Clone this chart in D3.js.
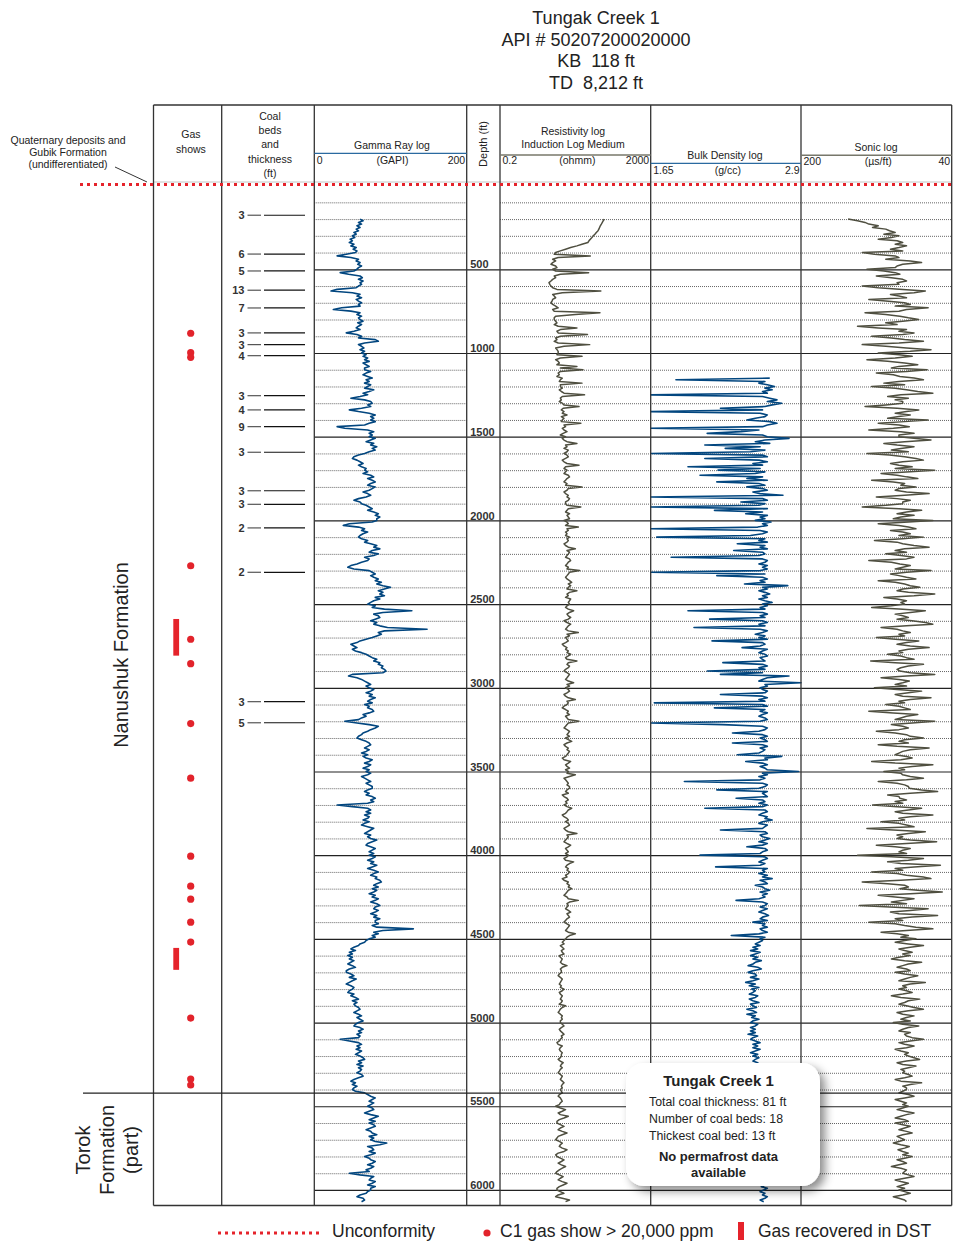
<!DOCTYPE html>
<html><head><meta charset="utf-8">
<script src="https://cdn.jsdelivr.net/npm/d3@7"></script>
<style>body{margin:0;background:#fff}svg{display:block;font-family:"Liberation Sans",Arial,sans-serif}</style>
</head><body><svg id="c" width="958" height="1241"></svg>
<script>
// ---------- DATA ----------
const titleLines = ["Tungak Creek 1", "API # 50207200020000", "KB  118 ft", "TD  8,212 ft"];
const depthTicks = [500,1000,1500,2000,2500,3000,3500,4000,4500,5000,5500,6000];
const coalDepths = [177,409,510,625,731,880,950,1016,1255,1340,1440,1593,1823,1904,2045,2310,3083,3209];
const coalThick  = [3,6,5,13,7,3,3,4,3,4,9,3,3,3,2,2,3,5];
const gasShowDepths = [882,998,1026,2271,2710,2856,3214,3540,4006,4185,4263,4400,4519,4973,5337,5373];
const dstTops    = [2589,4554];
const dstBottoms = [2808,4685];
const formationBoundary = 5422;
const grScale  = ["0","(GAPI)","200"];
const resScale = ["0.2","(ohmm)","2000"];
const denScale = ["1.65","(g/cc)","2.9"];
const sonScale = ["200","(\u00b5s/ft)","40"];

// log samples every 10 ft (one row = 100 ft)
const logStep = 10;
const gammaStart = 200;
const gammaValues = [
60,64,58,62,56,60,55,58,52,55, 50,53,47,50,46,52,48,55,51,56,
54,42,30,48,58,55,60,57,62,58, 56,52,34,45,60,63,58,64,60,62,
58,55,30,22,50,60,56,62,55,58, 62,58,60,36,25,48,60,56,62,58,
60,64,57,62,58,55,60,52,42,56, 62,58,80,84,66,58,62,65,60,66,
62,68,64,70,66,72,64,68,72,66, 66,74,68,64,70,76,68,72,66,74,
70,66,78,72,64,70,60,48,66,74, 76,70,74,62,46,58,72,80,74,78,
74,80,72,66,30,40,70,78,72,76, 72,80,74,68,78,74,82,76,80,72,
66,58,52,50,56,60,64,58,62,68, 66,70,64,74,78,70,76,80,74,70,
80,76,72,64,70,74,68,58,52,60, 62,68,72,76,70,78,84,80,86,82,
82,76,46,38,58,66,62,70,64,60, 58,62,70,66,74,82,78,86,76,72,
84,78,66,72,70,62,56,48,44,52, 72,76,80,74,78,84,80,88,82,90,
100,92,84,90,86,92,80,86,78,74, 70,80,76,92,128,90,78,84,86,80,
74,82,78,86,96,148,92,84,88,82, 76,68,60,56,48,52,56,50,54,62,
68,72,76,82,78,86,84,90,88,92, 94,90,50,45,56,62,66,70,74,68,
72,78,74,68,76,72,80,74,70,76, 66,72,70,76,78,72,64,68,62,58,
40,56,72,84,80,74,70,64,62,58, 56,62,68,72,74,70,66,72,68,62,
70,64,68,76,72,66,74,70,64,72, 68,74,70,62,66,70,74,68,72,76,
76,70,66,72,68,76,80,74,78,70, 30,50,70,74,68,74,66,72,70,64,
72,66,62,70,78,74,70,66,74,70, 74,82,76,70,68,74,80,76,72,78,
72,80,76,70,78,74,82,76,70,78, 84,78,74,82,80,86,88,82,78,84,
76,82,78,72,80,76,84,80,74,82, 86,80,78,84,80,74,82,78,86,80,
80,84,76,82,130,90,78,84,76,80, 72,68,66,60,58,52,48,54,46,50,
44,50,46,52,48,44,50,54,46,42, 42,48,52,46,55,50,46,42,48,52,
50,46,44,52,48,54,58,50,56,52, 54,58,60,56,52,58,62,56,60,64,
58,54,52,60,64,58,62,56,60,58, 34,46,58,62,56,60,55,62,58,54,
60,64,66,58,62,56,64,58,62,60, 56,62,64,58,52,48,54,50,56,52,
50,54,66,70,74,80,76,72,78,74, 70,76,78,72,66,74,84,78,72,80,
72,78,80,74,68,74,76,82,72,78, 74,80,95,86,70,76,78,72,80,74,
66,72,74,80,76,70,78,74,68,72, 46,60,78,74,72,80,76,70,80,74,
74,70,68,60,56,64,66,62];

const resStart = 200;
const resValues = [
117,110,104,98,92,88,84,80,72,66, 60,55,50,46,43,30,22,15,11,8,
6,5.5,50,7,5,6,5,4.5,6,6.5, 5,6,45,8,5.5,6,5,4.5,4,4.2,
4.5,5,6.5,95,9,5,5.5,6,5,4.8, 4.5,5,6,7,5,5.5,90,20,6,5.5,
5.5,6,6.5,5.5,7,22,8,6.5,7,42, 8,6,6.5,5.5,7,48,10,6,6.5,7,
7,6.5,30,8,6,7,7.5,6.5,22,8, 32,8,7,7.5,6.5,9,8,7.5,30,8,
8,9,7.5,8.5,10,35,9,8,8.5,7.5, 9,10,25,9.5,8.5,10,9,12,8.5,10,
9,8.5,28,10,11,9,10,12,9.5,8, 11,9,10,12,22,11,12,10,13,12,
10,12,13,11,9,10,12,25,11,10, 12,11,10,13,14,12,11,10,12,11,
30,13,12,10,11,13,12,14,13,11, 11,12,28,13,12,11,14,12,13,14,
10,12,13,11,24,12,13,11,12,11, 14,12,13,12,10,11,13,20,12,14,
13,12,11,14,15,13,12,11,13,12, 26,14,13,12,11,12,14,16,13,15,
13,12,22,14,12,13,11,15,14,13, 14,12,11,13,18,14,12,13,15,13,
10,12,15,13,12,11,13,24,12,14, 11,12,13,11,9,10,12,11,13,12,
15,13,11,12,22,13,12,14,13,11, 10,12,14,13,12,11,13,18,12,14,
11,13,14,12,10,11,13,20,12,13, 12,10,9,11,13,12,14,11,12,13,
25,13,12,11,10,12,14,13,12,14, 11,13,16,12,10,11,13,12,14,13,
12,11,9,10,15,13,11,12,14,11, 13,12,20,14,10,11,12,13,12,14,
14,12,11,13,9,10,12,13,11,12, 10,12,16,13,12,11,9,10,12,13,
11,13,14,12,10,11,13,22,12,13, 12,11,10,12,15,13,11,12,13,11,
13,12,10,11,18,14,12,11,13,12, 14,13,11,12,9,10,13,12,14,13,
16,13,12,11,10,12,13,24,14,12, 13,12,11,13,15,12,13,14,12,11,
10,12,14,13,12,11,13,20,14,12, 11,10,9,10,8,9,10,8.5,9,10,
7.5,8,9,8.5,8,9,12,9,8,8.5, 8.5,7.5,7,8,9,8.5,8,7.5,8.5,8,
10,9,7.5,8,9,8.5,8,9,8.5,7.5, 11,9,8,7.5,7,8,9,8.5,9,8,
8,9,10,8.5,7.5,8,9,10,8.5,9, 8,7.5,6.5,7,9,8,7.5,8,9,8.5,
8.5,8,7,8,9.5,8.5,8,9,8,7.5, 7,8,9,8.5,8,9,10,9,8.5,9,
8,8.5,9,7.5,7,8,8.5,9,8,7.5, 6,8,11,9,7,8,13,10,7.5,6.5,
6.5,8,10,8,7,9,12,9,7,6.5, 6,7.5,9,8,7.5,9,12,10,7,6,
6.5,8,10,8.5,7,8.5,11,9,7.5,6.5, 6,7.5,9.5,8,7,9,12,9.5,7.5,6.5,
6.5,8,10,7,6,9,14,11];

const densityStart = 1150;
const densityValues = [
2.64,1.86,2.60,2.55,2.62,2.68,2.60,2.66,2.58,2.62, 1.65,2.58,2.64,2.70,2.62,2.74,2.66,2.60,2.23,2.58,
1.65,2.56,2.62,2.60,2.52,2.45,2.64,2.70,2.62,2.58, 1.65,2.55,2.40,2.12,2.58,2.62,2.80,2.60,2.52,2.64,
2.10,2.56,2.27,2.60,2.48,1.65,2.58,2.62,2.10,2.55, 2.62,2.50,2.58,1.96,2.56,2.21,2.60,2.52,2.06,2.58,
2.45,2.62,2.20,2.55,2.60,2.45,2.58,2.62,2.50,2.56, 2.75,1.65,2.58,2.62,2.40,2.60,2.55,1.65,2.62,2.18,
2.58,2.44,2.62,2.56,2.60,2.52,2.65,2.58,2.62,2.54, 1.65,2.56,2.62,2.58,2.48,1.70,2.60,2.55,2.62,2.37,
2.60,2.56,2.62,2.34,2.58,2.60,2.55,1.82,2.58,2.62, 2.60,2.55,2.62,2.58,2.62,2.56,1.65,2.60,2.20,2.58,
2.62,2.56,2.60,2.43,2.79,2.58,2.62,2.55,2.60,2.64, 2.58,2.62,2.55,2.60,2.66,2.58,2.62,2.56,2.60,1.96,
2.58,2.62,2.56,2.60,2.14,2.58,2.62,2.55,2.60,2.01, 2.56,2.62,2.58,2.52,2.60,2.55,2.62,2.16,2.58,2.60,
2.56,2.41,2.62,2.58,2.55,2.60,2.62,2.56,2.58,2.60, 2.25,2.58,2.62,2.55,2.60,2.12,2.58,2.23,2.80,2.62,
2.58,2.55,2.92,2.60,2.62,2.56,2.58,2.62,2.60,2.23, 2.58,2.62,2.55,2.60,1.68,2.58,2.62,2.18,2.60,2.56,
2.62,2.58,2.55,2.60,2.62,2.56,1.65,2.25,2.58,2.62, 2.60,2.55,2.33,2.58,2.62,2.56,2.60,2.62,2.33,2.58,
2.62,2.56,2.60,2.58,2.55,2.37,2.74,2.60,2.62,2.44, 2.58,2.62,2.56,2.60,2.62,2.88,2.58,2.62,2.55,2.60,
2.56,1.93,2.58,2.62,2.60,2.55,2.20,2.62,2.58,2.60, 2.62,2.36,2.58,2.60,2.55,2.62,2.58,2.10,2.60,2.62,
2.58,2.55,2.62,2.60,2.66,2.58,2.55,2.62,2.60,2.58, 2.23,2.60,2.62,2.56,2.58,2.64,2.60,2.55,2.62,2.58,
2.45,2.60,2.62,2.58,2.56,2.06,2.60,2.62,2.58,2.55, 2.60,2.56,2.19,2.62,2.58,2.60,2.55,2.62,2.58,2.66,
2.56,2.60,2.62,2.52,2.58,2.60,2.64,2.56,2.62,2.58, 2.60,2.55,2.36,2.58,2.62,2.60,2.56,2.62,2.58,2.55,
2.60,2.63,2.58,2.56,2.62,2.50,2.60,2.58,2.62,2.56, 2.58,2.62,2.55,2.32,2.60,2.56,2.58,2.55,2.52,2.56,
2.50,2.54,2.48,2.56,2.52,2.48,2.54,2.50,2.57,2.52, 2.50,2.46,2.54,2.57,2.50,2.46,2.52,2.53,2.48,2.55,
2.50,2.44,2.52,2.47,2.55,2.49,2.52,2.50,2.47,2.54, 2.52,2.47,2.50,2.55,2.48,2.50,2.53,2.45,2.50,2.53,
2.45,2.52,2.49,2.55,2.50,2.48,2.54,2.52,2.48,2.52, 2.48,2.52,2.46,2.54,2.50,2.48,2.52,2.56,2.50,2.54,
2.50,2.56,2.52,2.48,2.54,2.50,2.55,2.52,2.50,2.54, 2.55,2.50,2.54,2.49,2.52,2.56,2.50,2.54,2.52,2.49,
2.56,2.52,2.58,2.54,2.56,2.60,2.54,2.58,2.56,2.60, 2.60,2.56,2.62,2.58,2.62,2.56,2.60,2.63,2.58,2.62,
2.63,2.57,2.60,2.64,2.58,2.62,2.60,2.57,2.62,2.60, 2.58,2.62,2.59,2.63,2.57,2.61,2.58,2.62,2.60,2.64,
2.57,2.61,2.64,2.58,2.62,2.60,2.56,2.62,2.58,2.63, 2.62,2.60,2.56,2.62,2.58,2.63,2.60,2.57,2.62,2.59,
2.58,2.63,2.60,2.57,2.62,2.59,2.56,2.60,2.58,2.62, 2.60,2.56,2.59];

const sonicStart = 200;
const sonicValues = [
150,140,132,128,118,124,110,106,100,112, 96,104,118,98,92,100,88,96,105,92,
135,122,100,96,110,84,72,92,98,100, 130,112,100,95,120,104,92,88,98,96,
135,118,92,68,80,105,96,88,128,110, 90,84,100,65,88,96,132,110,95,86,
75,92,110,98,140,118,88,96,80,92, 125,104,90,70,96,135,110,88,62,84,
118,96,82,100,130,108,90,76,96,104, 66,88,120,102,95,80,70,96,112,90,
125,100,88,76,60,94,108,86,100,92, 92,110,132,98,75,88,100,84,96,108,
65,90,118,96,85,102,128,94,80,96, 96,80,62,90,112,98,80,94,104,86,
130,106,90,78,70,92,105,96,82,100, 58,84,115,98,88,76,125,102,90,94,
78,96,100,88,64,90,120,98,84,92, 92,110,135,96,72,88,98,80,94,102,
60,86,118,96,86,78,105,92,84,96, 70,92,122,98,92,80,64,90,100,88,
110,94,80,88,128,104,95,84,92,100, 62,88,105,96,88,78,118,100,90,84,
74,92,98,86,58,80,112,98,88,94, 90,104,125,96,68,84,100,92,86,98,
82,68,60,88,115,98,92,84,96,90, 120,100,75,88,98,84,64,86,96,92,
108,94,88,80,126,100,70,86,94,98, 95,84,58,88,115,96,85,92,100,88,
122,98,72,86,100,92,62,84,96,90, 110,96,90,84,128,102,76,88,94,100,
58,82,104,92,86,96,120,100,88,84, 70,90,96,86,118,98,64,84,92,96,
100,88,82,94,125,100,60,82,96,90, 112,94,92,84,70,88,118,98,90,86,
85,72,55,84,108,96,95,88,100,92, 124,98,72,86,100,92,60,84,96,90,
115,96,88,80,130,102,68,86,98,92, 98,84,56,88,120,100,84,92,96,88,
140,104,70,86,108,94,52,80,100,92, 125,98,88,70,62,94,135,108,90,86,
95,76,50,84,118,100,80,92,104,88, 138,106,65,84,105,96,55,82,100,92,
128,100,90,78,60,88,115,98,86,94, 78,90,100,86,70,84,96,90,82,92,
84,96,104,90,72,86,92,98,88,84, 100,90,76,84,90,96,68,84,92,88,
96,88,82,92,104,94,74,86,90,96, 88,80,70,86,98,92,80,88,94,84,
102,92,75,86,92,96,84,90,88,82, 70,84,96,90,80,88,100,94,86,90,
86,80,74,88,98,92,78,86,94,90, 92,86,82,90,100,94,72,84,92,88,
88,92,96,86,80,90,100,94,88,92, 86,92,98,90,80,88,94,100,90,86,
100,92,84,90,96,88,82,92,98,94, 90,96,102,94,85,90,97,92,86,92,
82,90,98,92,88,96,104,94,88,90, 92,86,80,90,100,94,86,92,98,90,
96,90,84,92,102,96,90,88];

// ---------- LAYOUT ----------
const svg = d3.select('#c');
const topY = 105, botY = 1205.5;
const colX = [153.5, 221.7, 314.3, 466.7, 500, 650.7, 801, 951.7];
const y = d3.scaleLinear().domain([0, 6100]).range([185.6, 1206.7]);
const xGR  = d3.scaleLinear().domain([0, 200]).range([colX[2], colX[3]]);
const xRes = d3.scaleLog().domain([0.2, 2000]).range([colX[4], colX[5]]).clamp(true);
const xDen = d3.scaleLinear().domain([1.65, 2.9]).range([colX[5], colX[6]]).clamp(true);
const xSon = d3.scaleLinear().domain([200, 40]).range([colX[6], colX[7]]);

const defs = svg.append('defs');
defs.append('clipPath').attr('id','logclip').append('rect')
  .attr('x', colX[2]).attr('y', 184).attr('width', colX[7]-colX[2]).attr('height', botY-184);
const f = defs.append('filter').attr('id','sh').attr('x','-20%').attr('y','-20%').attr('width','150%').attr('height','160%');
f.append('feDropShadow').attr('dx',5).attr('dy',5).attr('stdDeviation',5).attr('flood-color','#000').attr('flood-opacity',0.45);

// ---------- TITLE ----------
svg.append('g').selectAll('text').data(titleLines).join('text')
  .attr('x', 596).attr('y', (d,i)=>24 + i*21.6).attr('text-anchor','middle')
  .attr('font-size', 18).attr('fill','#222').attr('xml:space','preserve').text(d=>d);

// ---------- GRID ----------
const minorDepths = d3.range(100, 6100, 100).filter(d => d % 500 !== 0);
const grid = svg.append('g');
[[colX[2], colX[3]], [colX[4], colX[7]]].forEach(([a,b]) => {
  const g = grid.append('g').attr('transform', `translate(${a},0)`)
    .call(d3.axisRight(y).tickValues(minorDepths).tickSize(b-a).tickFormat(''));
  g.select('.domain').remove();
  g.selectAll('line').attr('stroke','#666').attr('stroke-width',1).attr('stroke-dasharray','1,1');
});
grid.append('line').attr('x1', colX[0]).attr('x2', colX[7]).attr('y1', 182).attr('y2', 182)
  .attr('stroke','#888').attr('stroke-dasharray','1,1');
const major = grid.append('g').attr('transform', `translate(${colX[2]},0)`)
  .call(d3.axisRight(y).tickValues(depthTicks).tickSize(colX[7]-colX[2]).tickFormat(''));
major.select('.domain').remove();
major.selectAll('line').attr('stroke','#222').attr('stroke-width',1.2);

// depth labels
const dl = svg.append('g').attr('transform', `translate(${colX[3]+3.5},0)`)
  .call(d3.axisRight(y).tickValues(depthTicks).tickSize(0).tickPadding(0).tickFormat(d3.format('d')));
dl.select('.domain').remove();
dl.selectAll('text').attr('dy','-0.12em').attr('font-size',11).attr('font-weight','bold')
  .attr('fill','#333').attr('font-family','"Liberation Sans",Arial,sans-serif');

// ---------- CURVES ----------
const curves = svg.append('g').attr('clip-path','url(#logclip)');
function drawCurve(start, vals, xs, color, w) {
  const pts = vals.map((v,i) => [start + i*logStep, v]);
  curves.append('path').datum(pts)
    .attr('d', d3.line().x(p => xs(p[1])).y(p => y(p[0])))
    .attr('fill','none').attr('stroke',color).attr('stroke-width',w).attr('stroke-linejoin','round');
}
drawCurve(gammaStart, gammaValues, xGR, '#02467f', 1.6);
drawCurve(resStart, resValues, xRes, '#4f4f40', 1.5);
drawCurve(densityStart, densityValues, xDen, '#02467f', 1.6);
drawCurve(sonicStart, sonicValues, xSon, '#4f4f40', 1.5);

// ---------- FRAME ----------
const frame = svg.append('g').attr('stroke','#333').attr('stroke-width',1.3);
frame.append('line').attr('x1',colX[0]).attr('x2',colX[7]).attr('y1',topY).attr('y2',topY);
frame.append('line').attr('x1',colX[0]).attr('x2',colX[7]).attr('y1',botY).attr('y2',botY);
colX.forEach(x => frame.append('line').attr('x1',x).attr('x2',x).attr('y1',topY).attr('y2',botY));
svg.append('line').attr('x1',83).attr('x2',colX[7]).attr('y1',y(formationBoundary)).attr('y2',y(formationBoundary))
  .attr('stroke','#222').attr('stroke-width',1.3);

// ---------- HEADERS ----------
const hdr = svg.append('g').attr('fill','#222').attr('font-size',10.5).attr('text-anchor','middle');
function htext(x, yy, t, extra) { const e = hdr.append('text').attr('x',x).attr('y',yy).text(t); if (extra) extra(e); return e; }
[["Quaternary deposits and",144.3],["Gubik Formation",156],["(undifferentiated)",168.3]].forEach(([t,yy]) => htext(68, yy, t));
svg.append('line').attr('x1',115).attr('y1',167).attr('x2',147).attr('y2',182).attr('stroke','#333').attr('stroke-width',1);
htext(191, 138.3, "Gas"); htext(191, 152.7, "shows");
[["Coal",120],["beds",134],["and",148.3],["thickness",162.7],["(ft)",176.7]].forEach(([t,yy]) => htext(270, yy, t));
htext(392, 149, "Gamma Ray log");
htext(573, 135, "Resistivity log"); htext(573, 147.5, "Induction Log Medium");
htext(725, 159, "Bulk Density log");
htext(876, 151, "Sonic log");
htext(0, 0, "Depth (ft)", e => e.attr('transform','translate(487,144) rotate(-90)').attr('font-size',11));
svg.append('line').attr('x1',colX[2]).attr('x2',colX[3]).attr('y1',153.3).attr('y2',153.3).attr('stroke','#2a6aa0').attr('stroke-width',1.3);
svg.append('line').attr('x1',colX[4]).attr('x2',colX[5]).attr('y1',155).attr('y2',155).attr('stroke','#77776a').attr('stroke-width',1.5);
svg.append('line').attr('x1',colX[5]).attr('x2',colX[6]).attr('y1',163.3).attr('y2',163.3).attr('stroke','#2a6aa0').attr('stroke-width',1.3);
svg.append('line').attr('x1',colX[6]).attr('x2',colX[7]).attr('y1',155.3).attr('y2',155.3).attr('stroke','#77776a').attr('stroke-width',1.5);
function scaleLabels(lbls, x0, x1, yy) {
  htext(x0+2.5, yy, lbls[0], e => e.attr('text-anchor','start'));
  htext((x0+x1)/2 + 2, yy, lbls[1]);
  htext(x1-1.5, yy, lbls[2], e => e.attr('text-anchor','end'));
}
scaleLabels(grScale, colX[2], colX[3], 163.5);
scaleLabels(resScale, colX[4], colX[5], 163.5);
scaleLabels(denScale, colX[5], colX[6], 174);
scaleLabels(sonScale, colX[6], colX[7], 165);

svg.append('line').attr('x1',80).attr('x2',colX[7]).attr('y1',184.5).attr('y2',184.5)
  .attr('stroke','#e5232b').attr('stroke-width',3).attr('stroke-dasharray','3,4');

svg.append('text').attr('transform',`translate(128,655) rotate(-90)`).attr('text-anchor','middle')
  .attr('font-size',20).attr('fill','#222').text('Nanushuk Formation');
const tor = svg.append('text').attr('transform',`rotate(-90)`).attr('text-anchor','middle')
  .attr('font-size',20).attr('fill','#222');
[["Torok",90],["Formation",114],["(part)",138]].forEach(([t,xx]) =>
  tor.append('tspan').attr('x',-1150).attr('y',xx).text(t));

// ---------- COAL BEDS ----------
const coal = svg.append('g').selectAll('g').data(coalDepths).join('g')
  .attr('transform', d => `translate(0,${y(d)})`);
coal.append('text').attr('x',244.5).attr('dy','0.36em').attr('text-anchor','end')
  .attr('font-size',11).attr('font-weight','bold').attr('fill','#333').text((d,i)=>coalThick[i]);
coal.append('line').attr('x1',247.5).attr('x2',261).attr('stroke','#555').attr('stroke-width',1.2);
coal.append('line').attr('x1',264).attr('x2',305).attr('stroke','#111').attr('stroke-width',1.2);

// ---------- GAS SHOWS ----------
svg.append('g').selectAll('circle').data(gasShowDepths).join('circle')
  .attr('cx',190.7).attr('cy', d => y(d)).attr('r',3.6).attr('fill','#e2232b');
svg.append('g').selectAll('rect').data(dstTops).join('rect')
  .attr('x',173.3).attr('width',5.8).attr('y', d => y(d)).attr('height', (d,i) => y(dstBottoms[i]) - y(d))
  .attr('fill','#e5232b');

// ---------- INFO BOX ----------
const box = svg.append('g');
box.append('rect').attr('x',626).attr('y',1063).attr('width',194).attr('height',123).attr('rx',18)
  .attr('fill','#fff').attr('filter','url(#sh)');
box.append('text').attr('x',718.5).attr('y',1086).attr('text-anchor','middle').attr('font-size',15)
  .attr('font-weight','bold').attr('fill','#222').text('Tungak Creek 1');
[["Total coal thickness: 81 ft",1106],["Number of coal beds: 18",1123.3],["Thickest coal bed: 13 ft",1140]].forEach(([t,yy]) =>
  box.append('text').attr('x',649).attr('y',yy).attr('font-size',12.3).attr('fill','#222').text(t));
[["No permafrost data",1160.7],["available",1176.7]].forEach(([t,yy]) =>
  box.append('text').attr('x',718.5).attr('y',yy).attr('text-anchor','middle').attr('font-size',13)
    .attr('font-weight','bold').attr('fill','#222').text(t));

// ---------- LEGEND ----------
const lg = svg.append('g').attr('font-size',17.5).attr('fill','#222');
lg.append('line').attr('x1',218).attr('x2',321).attr('y1',1233).attr('y2',1233)
  .attr('stroke','#e5232b').attr('stroke-width',3).attr('stroke-dasharray','3,4');
lg.append('text').attr('x',332).attr('y',1237).text('Unconformity');
lg.append('circle').attr('cx',487).attr('cy',1233).attr('r',3.6).attr('fill','#e2232b');
lg.append('text').attr('x',500).attr('y',1237).text('C1 gas show > 20,000 ppm');
lg.append('rect').attr('x',738).attr('y',1222).attr('width',6).attr('height',18).attr('fill','#e5232b');
lg.append('text').attr('x',758).attr('y',1237).text('Gas recovered in DST');
</script></body></html>
